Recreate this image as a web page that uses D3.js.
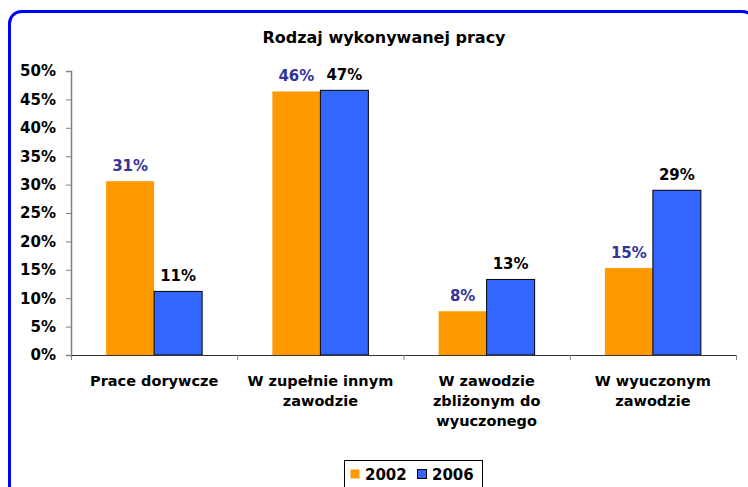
<!DOCTYPE html>
<html>
<head>
<meta charset="utf-8">
<script src="https://cdn.jsdelivr.net/npm/d3@7"></script>
<style>
  body { margin: 0; background: #fff; }
  text { font-family: Verdana, "DejaVu Sans", sans-serif; font-weight: bold; }
</style>
</head>
<body>
<div id="chart"></div>
<script>
var categories = [["Prace dorywcze"], ["W zupełnie innym", "zawodzie"], ["W zawodzie", "zbliżonym do", "wyuczonego"], ["W wyuczonym", "zawodzie"]];
var seriesNames = ["2002", "2006"];
var values2002 = [30.6, 46.4, 7.7, 15.3];
var values2006 = [11.2, 46.6, 13.3, 29.0];
var labels2002 = ["31%", "46%", "8%", "15%"];
var labels2006 = ["11%", "47%", "13%", "29%"];
var yTicks = [0, 5, 10, 15, 20, 25, 30, 35, 40, 45, 50];

var colors = ["#FF9900", "#3366FF"];
var labelColors = ["#333399", "#000000"];

var width = 748, height = 487;
var svg = d3.select("#chart").append("svg").attr("width", width).attr("height", height);

// blue rounded frame, runs off the right and bottom edges
svg.append("rect")
  .attr("x", 9.5).attr("y", 11.5)
  .attr("width", 745).attr("height", 490)
  .attr("rx", 12)
  .attr("fill", "none")
  .attr("stroke", "#0000FF")
  .attr("stroke-width", 3);

svg.append("text")
  .attr("x", 384).attr("y", 43)
  .attr("text-anchor", "middle")
  .style("font-size", "16px")
  .text("Rodzaj wykonywanej pracy");

var plotLeft = 71, plotRight = 736, plotTop = 71, plotBottom = 355;

var x = d3.scaleBand().domain(d3.range(categories.length)).range([plotLeft, plotRight]);
var y = d3.scaleLinear().domain([0, 50]).range([plotBottom, plotTop]);
var inner = 96 / 166.25;
var x1 = d3.scaleBand().domain([0, 1]).range([x.bandwidth() * (1 - inner) / 2, x.bandwidth() * (1 + inner) / 2]);

var series = [values2002, values2006];
var labels = [labels2002, labels2006];

// y axis
var yAxis = svg.append("g")
  .attr("transform", "translate(" + plotLeft + ",0)")
  .call(d3.axisLeft(y).tickValues(yTicks).tickSize(5).tickPadding(10).tickFormat(d => d + "%"));
yAxis.select(".domain").attr("stroke", "#808080").attr("stroke-width", 1.5);
yAxis.selectAll(".tick line").attr("stroke", "#808080");
yAxis.selectAll(".tick text").style("font-size", "15px").attr("fill", "#000");

// bars
series.forEach(function(vals, s) {
  svg.append("g").selectAll("rect")
    .data(vals)
    .enter()
    .append("rect")
    .attr("x", (d, i) => x(i) + x1(s))
    .attr("y", d => y(d))
    .attr("width", x1.bandwidth())
    .attr("height", d => plotBottom - y(d))
    .attr("fill", colors[s])
    .attr("stroke", s == 1 ? "#000" : "none")
    .attr("stroke-width", 1);

  svg.append("g").selectAll("text")
    .data(vals)
    .enter()
    .append("text")
    .attr("x", (d, i) => x(i) + x1(s) + x1.bandwidth() / 2)
    .attr("y", d => y(d) - 10)
    .attr("text-anchor", "middle")
    .attr("fill", labelColors[s])
    .style("font-size", "15px")
    .text((d, i) => labels[s][i]);
});

// x axis
var xAxis = svg.append("g")
  .attr("transform", "translate(0," + plotBottom + ")")
  .call(d3.axisBottom(d3.scaleLinear().domain([0, 4]).range([plotLeft, plotRight])).ticks(4).tickSize(5).tickFormat(""));
xAxis.select(".domain").attr("stroke", "#333");
xAxis.selectAll(".tick line").attr("stroke", "#808080");

var catLabels = svg.append("g").selectAll("text")
  .data(categories)
  .enter()
  .append("text")
  .attr("text-anchor", "middle")
  .attr("transform", (d, i) => "translate(" + (x(i) + x.bandwidth() / 2) + ",386)")
  .style("font-size", "14.5px");
catLabels.selectAll("tspan")
  .data(d => d)
  .enter()
  .append("tspan")
  .attr("x", 0)
  .attr("y", (d, i) => i * 20)
  .text(d => d);

// legend
var legend = svg.append("g");
legend.append("rect")
  .attr("x", 344.5).attr("y", 460.5)
  .attr("width", 138).attr("height", 40)
  .attr("fill", "#fff").attr("stroke", "#000").attr("stroke-width", 1);
var legendX = [350, 417];
seriesNames.forEach(function(name, s) {
  legend.append("rect")
    .attr("x", legendX[s] + 0.5).attr("y", 469.5)
    .attr("width", 9).attr("height", 9)
    .attr("fill", colors[s])
    .attr("stroke", s == 1 ? "#000" : "none");
  legend.append("text")
    .attr("x", legendX[s] + 15).attr("y", 480)
    .style("font-size", "15px")
    .text(name);
});
</script>
</body>
</html>
